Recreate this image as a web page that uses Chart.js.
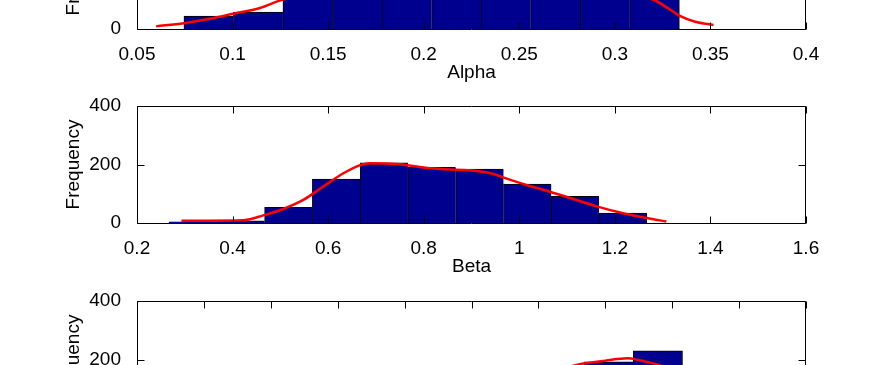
<!DOCTYPE html>
<html><head><meta charset="utf-8">
<script src="https://cdn.jsdelivr.net/npm/chart.js@4.4.1/dist/chart.umd.min.js"></script>
<style>
html,body{margin:0;padding:0;background:#fff;overflow:hidden;width:887px;height:365px;position:relative}
canvas{position:absolute;left:0}
</style></head><body>
<canvas id="c1" width="887" height="195" style="top:-100px;width:887px;height:195px"></canvas>
<canvas id="c2" width="887" height="195" style="top:94px;width:887px;height:195px"></canvas>
<canvas id="c3" width="887" height="195" style="top:289px;width:887px;height:195px"></canvas>
<script>
// ---- Alpha panel ----
const alphaBinCenters = [0.0875, 0.1134, 0.1393, 0.1652, 0.1912, 0.2171, 0.2430, 0.2690, 0.2949, 0.3208];
const alphaCounts     = [44, 58, 125, 132, 128, 135, 130, 126, 122, 112];
const alphaCurveX     = [0.060, 0.0745, 0.0881, 0.1003, 0.1143, 0.1247, 0.135, 0.16, 0.20, 0.25, 0.29, 0.31, 0.3202, 0.329, 0.334, 0.342, 0.3516];
const alphaCurveY     = [9, 20, 35, 52, 72, 97, 115, 128, 132, 130, 122, 112, 100, 66, 45, 25, 14];
const alphaTicks      = [0.05, 0.1, 0.15, 0.2, 0.25, 0.3, 0.35, 0.4];
const alphaTickLabels = ['0.05', '0.1', '0.15', '0.2', '0.25', '0.3', '0.35', '0.4'];

// ---- Beta panel ----
const betaBinCenters = [0.317, 0.417, 0.517, 0.617, 0.717, 0.817, 0.917, 1.017, 1.117, 1.217];
const betaCounts     = [4, 7, 54, 150, 206, 190, 184, 133, 91, 34];
const betaCurveX     = [0.293, 0.35, 0.42, 0.464, 0.506, 0.548, 0.59, 0.632, 0.667, 0.688, 0.744, 0.814, 0.884, 0.911, 0.945, 0.966, 1.015, 1.064, 1.113, 1.162, 1.211, 1.267, 1.308];
const betaCurveY     = [8, 8, 9, 26, 48, 79, 125, 170, 198, 204, 202, 187, 181, 178, 168, 156, 130, 107, 82, 57, 36, 17, 5];
const betaTicks      = [0.2, 0.4, 0.6, 0.8, 1.0, 1.2, 1.4, 1.6];
const betaTickLabels = ['0.2', '0.4', '0.6', '0.8', '1', '1.2', '1.4', '1.6'];

// ---- Third panel (only its top is visible) ----
const gammaBinCenters = [0.1162, 0.1898, 0.2634, 0.3370, 0.4106, 0.4842, 0.5578, 0.6314, 0.7050, 0.7786];
const gammaCounts     = [3, 12, 40, 80, 125, 160, 168, 174, 192, 230];
const gammaCurveX     = [0.10, 0.20, 0.30, 0.40, 0.50, 0.55, 0.60, 0.64, 0.668, 0.70, 0.733, 0.75, 0.768, 0.782, 0.80, 0.82, 0.84, 0.86];
const gammaCurveY     = [3, 15, 50, 110, 152, 162, 168, 174, 186, 196, 204, 198, 188, 180, 150, 90, 30, 5];
const gammaTicks      = [0, 0.1, 0.2, 0.3, 0.4, 0.5, 0.6, 0.7, 0.8, 0.9, 1.0];
const gammaTickLabels = ['0', '0.1', '0.2', '0.3', '0.4', '0.5', '0.6', '0.7', '0.8', '0.9', '1'];

const freqTicks      = [0, 200, 400];
const freqTickLabels = ['0', '200', '400'];

Chart.defaults.font.family = "'Liberation Sans', Arial, Helvetica, sans-serif";
Chart.defaults.font.size = 19;
Chart.defaults.color = '#000';

const boxTicks = {
  id: 'boxTicks',
  afterDraw(chart) {
    const {ctx, chartArea: a, scales: {x, y}} = chart;
    ctx.save();
    ctx.strokeStyle = '#000';
    ctx.lineWidth = 1;
    const L = Math.round(a.left) + 0.5, R = Math.round(a.right) - 0.5;
    const T = Math.round(a.top) + 0.5, B = Math.round(a.bottom) + 0.5;
    ctx.beginPath();
    ctx.moveTo(L, T); ctx.lineTo(R, T); ctx.lineTo(R, B); ctx.lineTo(L, B); ctx.closePath();
    x.ticks.forEach(t => {
      const px = Math.round(x.getPixelForValue(t.value)) + 0.5;
      ctx.moveTo(px, B); ctx.lineTo(px, B - 7);
      ctx.moveTo(px, T); ctx.lineTo(px, T + 7);
    });
    y.ticks.forEach(t => {
      const py = Math.round(y.getPixelForValue(t.value)) + 0.5;
      ctx.moveTo(L, py); ctx.lineTo(L + 7, py);
      ctx.moveTo(R, py); ctx.lineTo(R - 7, py);
    });
    ctx.stroke();
    ctx.restore();
  }
};

function makePanel(id, centers, counts, cx, cy, xTicks, xLabels, xTitle) {
  const n = counts.length;
  new Chart(document.getElementById(id), {
    type: 'bar',
    data: {
      datasets: [
        {
          type: 'line',
          order: 0,
          data: cx.map((v, i) => ({x: v, y: cy[i]})),
          borderColor: 'rgb(255,0,0)',
          borderWidth: 2.5,
          pointRadius: 0,
          cubicInterpolationMode: 'monotone',
          fill: false
        },
        {
          type: 'bar',
          order: 1,
          data: centers.map((v, i) => ({x: v, y: counts[i]})),
          backgroundColor: 'rgb(0,0,143)',
          borderColor: '#000',
          borderWidth: ctx => ({top: 1, left: 1, bottom: 0, right: ctx.dataIndex === n - 1 ? 1 : 0}),
          borderSkipped: false,
          barThickness: 'flex',
          categoryPercentage: 1.0,
          barPercentage: 1.0
        }
      ]
    },
    options: {
      responsive: false,
      animation: false,
      devicePixelRatio: 1,
      layout: {padding: {top: 12, left: 0, right: 81, bottom: 0}},
      plugins: {legend: {display: false}, tooltip: {enabled: false}},
      scales: {
        x: {
          type: 'linear',
          offset: false,
          min: xTicks[0],
          max: xTicks[xTicks.length - 1],
          grid: {display: false},
          border: {display: false},
          afterBuildTicks: s => { s.ticks = xTicks.map(v => ({value: v})); },
          afterFit: s => { s.height = 66; s.paddingLeft = 0; s.paddingRight = 0; },
          ticks: {
            autoSkip: false, maxRotation: 0, padding: 6,
            callback: (v, i) => xLabels[i]
          },
          title: {display: true, text: xTitle, padding: {top: 0, bottom: 10.5}}
        },
        y: {
          type: 'linear',
          min: 0,
          max: 400,
          grid: {display: false},
          border: {display: false},
          afterBuildTicks: s => { s.ticks = freqTicks.map(v => ({value: v})); },
          afterFit: s => { s.width = 137; s.paddingTop = 0; s.paddingBottom = 0; },
          ticks: {padding: 8, callback: (v, i) => freqTickLabels[i]},
          title: {display: true, text: 'Frequency', padding: {top: 62, bottom: 0}}
        }
      }
    },
    plugins: [boxTicks]
  });
}

makePanel('c1', alphaBinCenters, alphaCounts, alphaCurveX, alphaCurveY, alphaTicks, alphaTickLabels, 'Alpha');
makePanel('c2', betaBinCenters, betaCounts, betaCurveX, betaCurveY, betaTicks, betaTickLabels, 'Beta');
makePanel('c3', gammaBinCenters, gammaCounts, gammaCurveX, gammaCurveY, gammaTicks, gammaTickLabels, 'Gamma');
</script></body></html>
